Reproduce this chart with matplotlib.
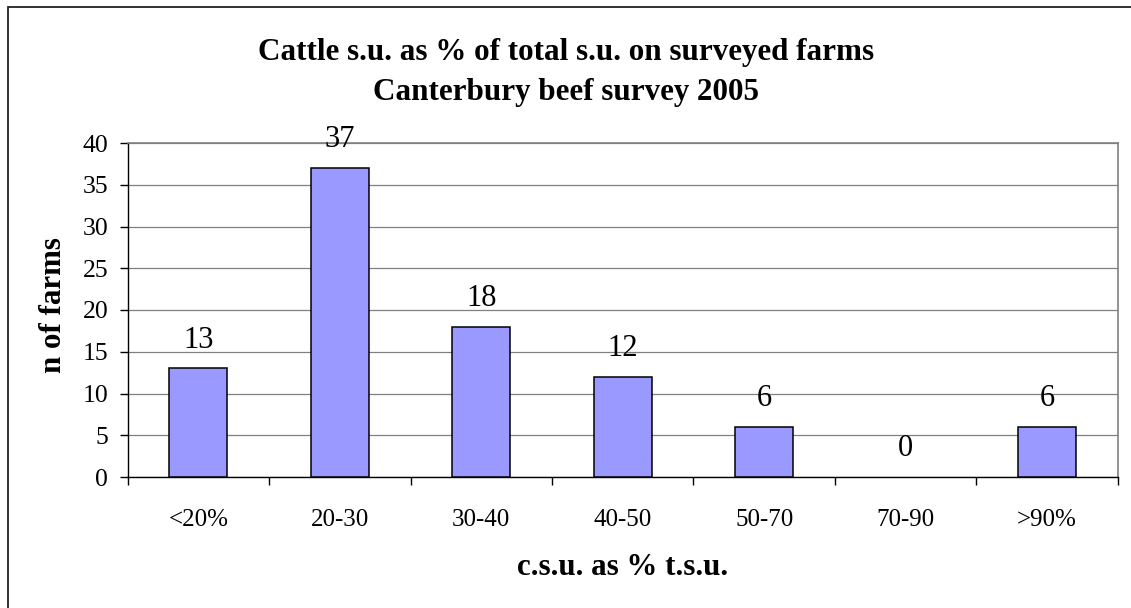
import matplotlib
matplotlib.use("Agg")
import matplotlib.pyplot as plt
from matplotlib.patches import Rectangle
import numpy as np

categories = ["<20%", "20-30", "30-40", "40-50", "50-70", "70-90", ">90%"]
values = [13, 37, 18, 12, 6, 0, 6]
yticks = [0, 5, 10, 15, 20, 25, 30, 35, 40]
title1 = "Cattle s.u. as % of total s.u. on surveyed farms"
title2 = "Canterbury beef survey 2005"
xlabel = "c.s.u. as % t.s.u."
ylabel = "n of farms"

plt.rcParams['font.family'] = ['Liberation Serif', 'DejaVu Serif']

W, H = 1131, 608
fig = plt.figure(figsize=(W / 100, H / 100), dpi=100)

def fx(px):
    return px / W

def fy(py):
    return 1 - py / H

left, right, top, bottom = 127.7, 1117.7, 143, 477
ax = fig.add_axes([fx(left), fy(bottom), fx(right - left), (bottom - top) / H])

x = np.arange(len(categories))
bars = ax.bar(x, values, width=0.41, color="#9999FF", edgecolor="black", linewidth=1.1, zorder=3)
for b, v in zip(bars, values):
    if v == 0:
        b.set_linewidth(0)

ax.set_xlim(-0.5, len(categories) - 0.5)
ax.set_ylim(0, 40)
ax.set_yticks(yticks)
ax.set_yticklabels([str(t) for t in yticks], fontsize=18.5)
ax.yaxis.grid(True, color="#808080", linewidth=0.9, zorder=0)
ax.set_axisbelow(True)

ax.set_xticks(x)
ax.set_xticklabels(categories, fontsize=18)
ax.set_xticks(np.arange(-0.5, len(categories), 1.0), minor=True)
ax.tick_params(axis="x", which="major", length=0, pad=23)
ax.tick_params(axis="x", which="minor", length=6, width=1, direction="out", color="black")
ax.tick_params(axis="y", which="major", length=6, width=1, direction="out", pad=8)

for side in ["top", "right"]:
    ax.spines[side].set_color("#808080")
    ax.spines[side].set_linewidth(1.2)
for side in ["left", "bottom"]:
    ax.spines[side].set_color("black")
    ax.spines[side].set_linewidth(1.0)

for xi, v in zip(x, values):
    ax.annotate(str(v), xy=(xi, v), xytext=(0, 15), textcoords="offset points",
                ha="center", va="baseline", fontsize=22, zorder=4)

fig.text(fx(566), fy(60), title1, ha="center", va="baseline", fontsize=22.4, fontweight="bold")
fig.text(fx(566), fy(100), title2, ha="center", va="baseline", fontsize=22.4, fontweight="bold")
fig.text(fx(623), fy(575), xlabel, ha="center", va="baseline", fontsize=22.3, fontweight="bold")
fig.text(fx(54), fy(305), ylabel, ha="center", va="center", rotation=90, fontsize=22.2, fontweight="bold")

border = Rectangle((fx(7.5), -0.05), 1.1, fy(6.5) + 0.05, transform=fig.transFigure,
                   fill=False, edgecolor="#222222", linewidth=1.3, clip_on=False)
fig.patches.append(border)

fig.savefig("out.png", dpi=100)
